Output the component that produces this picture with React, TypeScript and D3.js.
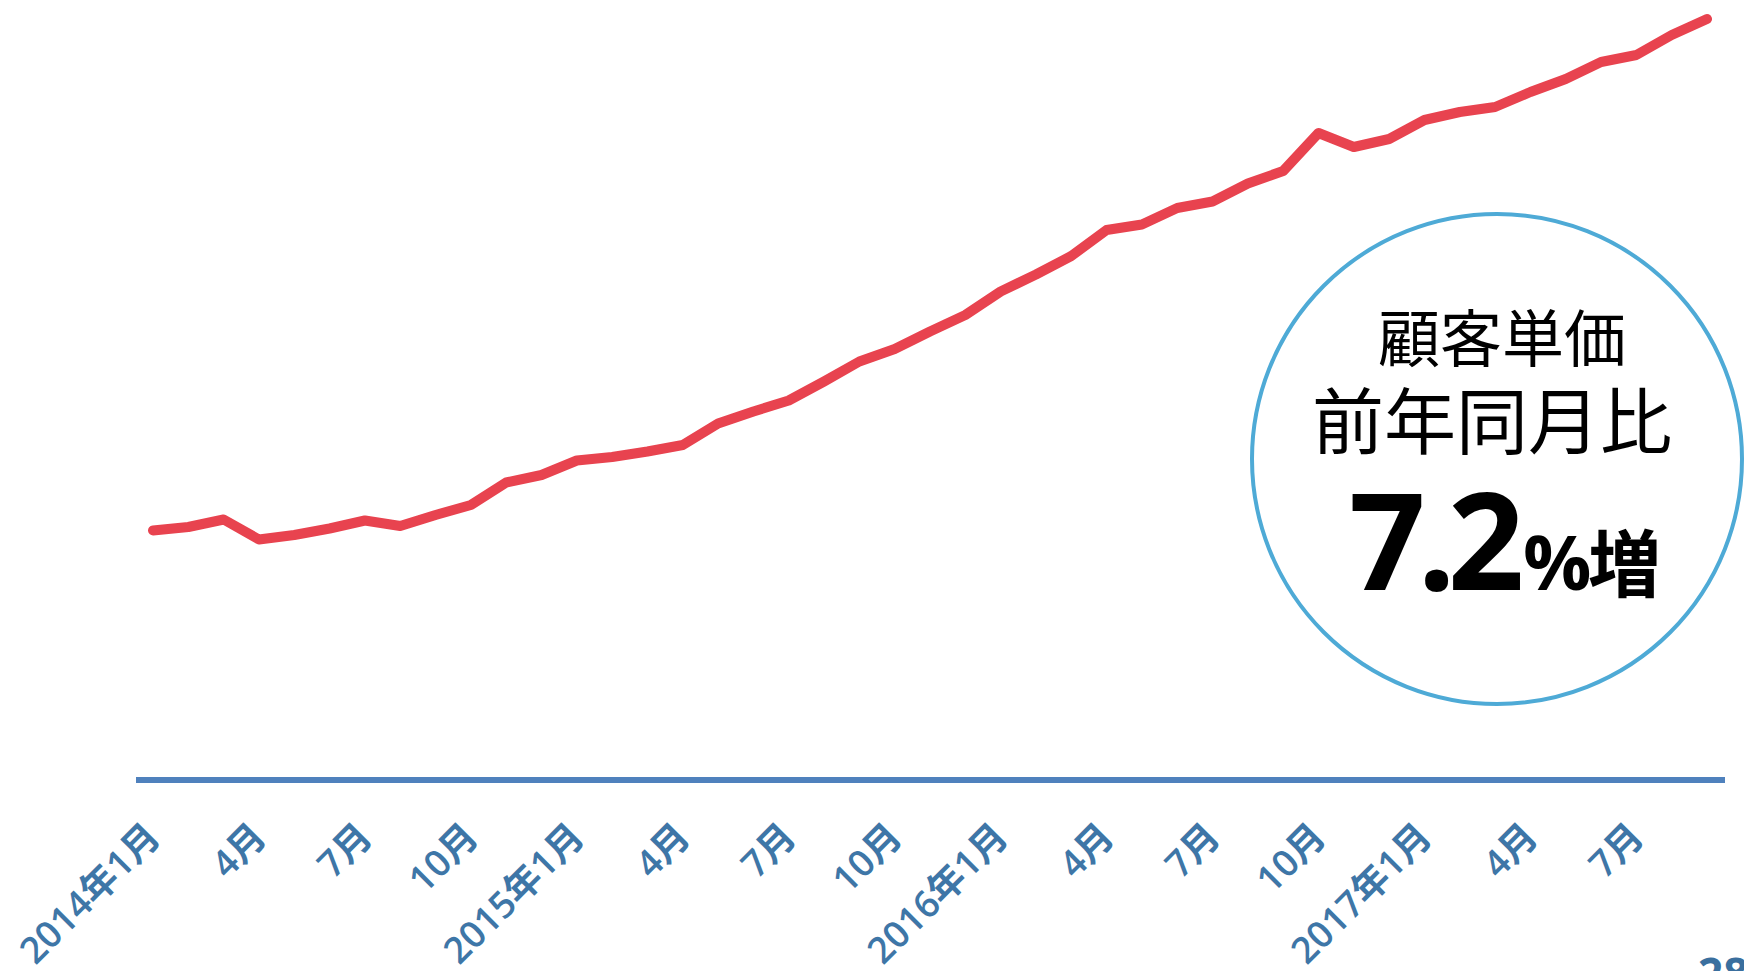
import React, { useEffect, useRef } from 'react';
import * as d3 from 'd3';

// months on the x axis (2014-01 .. 2017-09)
const months: string[] = [
    '2014-01', '2014-02', '2014-03', '2014-04', '2014-05', '2014-06', '2014-07', '2014-08', '2014-09', '2014-10', '2014-11', '2014-12',
    '2015-01', '2015-02', '2015-03', '2015-04', '2015-05', '2015-06', '2015-07', '2015-08', '2015-09', '2015-10', '2015-11', '2015-12',
    '2016-01', '2016-02', '2016-03', '2016-04', '2016-05', '2016-06', '2016-07', '2016-08', '2016-09', '2016-10', '2016-11', '2016-12',
    '2017-01', '2017-02', '2017-03', '2017-04', '2017-05', '2017-06', '2017-07', '2017-08', '2017-09'
];

// customer unit price (index)
const unitPrice: number[] = [
    49.9, 50.6, 52.1, 48.1, 49.0, 50.3, 51.9, 50.8, 53.0, 55.0, 59.5, 61.0,
    63.9, 64.6, 65.7, 67.0, 71.3, 73.7, 75.9, 79.7, 83.7, 86.2, 89.7, 93.0,
    97.7, 101.1, 104.8, 110.0, 111.1, 114.4, 115.7, 119.3, 121.8, 129.4, 126.6, 128.2,
    132.0, 133.6, 134.6, 137.6, 140.2, 143.6, 145.0, 149.0, 152.2
];

const tickMonths: string[] = [
    '2014-01', '2014-04', '2014-07', '2014-10',
    '2015-01', '2015-04', '2015-07', '2015-10',
    '2016-01', '2016-04', '2016-07', '2016-10',
    '2017-01', '2017-04', '2017-07'
];
const tickLabels: string[] = [
    '2014年1月', '4月', '7月', '10月',
    '2015年1月', '4月', '7月', '10月',
    '2016年1月', '4月', '7月', '10月',
    '2017年1月', '4月', '7月'
];

const calloutTitle = '顧客単価';
const calloutSub = '前年同月比';
const calloutValue = '7.2';
const calloutUnit = '%';
const calloutSuffix = '増';
const pageNumber = '28';

const JP = "'Noto Sans CJK JP', sans-serif";
const LATIN = "'Open Sans', 'Noto Sans CJK JP', sans-serif";

const App: React.FC = () => {
    const svgRef = useRef<SVGSVGElement>(null);

    useEffect(() => {
        if (!svgRef.current) return;
        const width = 1744;
        const height = 971;

        const svg = d3.select(svgRef.current);
        svg.selectAll('*').remove();
        svg.attr('width', width).attr('height', height);

        const x = d3.scalePoint<string>().domain(months).range([153, 1707]);
        const y = d3.scaleLinear().domain([0, 156]).range([780, 0]);

        // baseline
        const [x0, x1] = x.range();
        svg.append('line')
            .attr('x1', x0 - 17)
            .attr('x2', x1 + 18)
            .attr('y1', y(0))
            .attr('y2', y(0))
            .attr('stroke', '#4f81bd')
            .attr('stroke-width', 6);

        // axis labels
        const axis = d3.axisBottom(x)
            .tickValues(tickMonths)
            .tickSize(0)
            .tickFormat(d => tickLabels[tickMonths.indexOf(d)]);

        const gx = svg.append('g')
            .attr('transform', `translate(0,${y(0)})`)
            .call(axis);
        gx.select('.domain').remove();
        gx.selectAll('text')
            .attr('x', 0)
            .attr('y', 0)
            .attr('dy', 0)
            .attr('transform', 'translate(9,59) rotate(-45)')
            .style('text-anchor', 'end')
            .style('font-family', LATIN)
            .style('font-size', '37px')
            .style('font-weight', 600)
            .attr('fill', '#3e76a7');

        // price line
        const line = d3.line<number>()
            .x((d, i) => x(months[i]) as number)
            .y(d => y(d));

        svg.append('path')
            .datum(unitPrice)
            .attr('fill', 'none')
            .attr('stroke', '#e8434f')
            .attr('stroke-width', 10)
            .attr('stroke-linecap', 'round')
            .attr('stroke-linejoin', 'round')
            .attr('d', line);

        // callout circle
        svg.append('circle')
            .attr('cx', 1497)
            .attr('cy', 459)
            .attr('r', 245)
            .attr('fill', '#fff')
            .attr('stroke', '#4eaad6')
            .attr('stroke-width', 4);

        svg.append('text')
            .attr('x', 1502)
            .attr('y', 362)
            .attr('text-anchor', 'middle')
            .style('font-family', JP)
            .style('font-size', '62px')
            .attr('fill', '#000')
            .text(calloutTitle);

        svg.append('text')
            .attr('x', 1492)
            .attr('y', 448)
            .attr('text-anchor', 'middle')
            .style('font-family', JP)
            .style('font-size', '72px')
            .attr('fill', '#000')
            .text(calloutSub);

        svg.append('text')
            .attr('x', 1349)
            .attr('y', 590)
            .style('font-family', LATIN)
            .style('font-size', '134px')
            .style('font-weight', 700)
            .style('letter-spacing', '-8px')
            .attr('fill', '#000')
            .text(calloutValue);

        svg.append('text')
            .attr('x', 1523)
            .attr('y', 590)
            .style('font-family', LATIN)
            .style('font-size', '76px')
            .style('font-weight', 700)
            .attr('fill', '#000')
            .text(calloutUnit);

        svg.append('text')
            .attr('x', 1588)
            .attr('y', 591)
            .style('font-family', JP)
            .style('font-size', '73px')
            .style('font-weight', 700)
            .attr('fill', '#000')
            .text(calloutSuffix);

        // page number (cut off at the bottom edge)
        svg.append('text')
            .attr('x', 1698)
            .attr('y', 990)
            .style('font-family', LATIN)
            .style('font-size', '44px')
            .style('font-weight', 700)
            .attr('fill', '#3a6f9e')
            .text(pageNumber);
    }, []);

    return (
        <svg
            ref={svgRef}
            style={{ position: 'absolute', top: 0, left: 0, display: 'block', background: '#fff' }}
        ></svg>
    );
};

export default App;
